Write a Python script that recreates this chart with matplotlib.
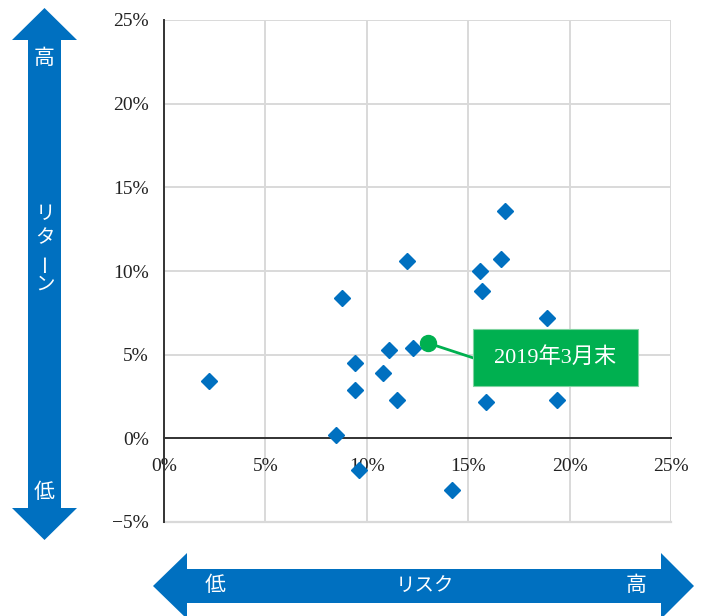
import matplotlib
matplotlib.use('Agg')
from matplotlib import pyplot as plt
from matplotlib.patches import Polygon, Rectangle

W, H = 702, 616

# risk (x, %) and return (y, %) of each asset
risk = [2.2, 8.5, 8.8, 9.4, 9.4, 9.6, 10.8, 11.1, 11.5, 12.0, 12.3,
        14.2, 15.6, 15.7, 15.9, 16.6, 16.8, 18.9, 19.4]
ret = [3.4, 0.2, 8.4, 4.5, 2.9, -1.9, 3.9, 5.3, 2.3, 10.6, 5.4,
       -3.1, 10.0, 8.8, 2.2, 10.7, 13.6, 7.2, 2.3]
latest_risk = 13.0
latest_ret = 5.7
latest_label = '2019年3月末'
x_ticks = [0, 5, 10, 15, 20, 25]
y_ticks = [-5, 0, 5, 10, 15, 20, 25]

BLUE = '#0070C0'
GREEN = '#00B050'
SERIF = ['Liberation Serif', 'Noto Sans CJK JP']
JP = ['Noto Sans CJK JP', 'DejaVu Sans']


def px(points):
    # pixel coords (top-left origin) -> figure fraction
    return [(x / W, 1 - y / H) for x, y in points]


def pct(v):
    return f'{v}%'.replace('-', '\u2212')


fig = plt.figure(figsize=(W / 100, H / 100), dpi=100)
ax = fig.add_axes([164 / W, (H - 522) / H, (671 - 164) / W, (522 - 20) / H])

# spine position first: moving it resets the tick label styling
for s in ('top', 'right'):
    ax.spines[s].set_visible(False)
ax.spines['bottom'].set_position(('data', 0))
for s in ('bottom', 'left'):
    ax.spines[s].set_color('#333333')
    ax.spines[s].set_linewidth(1.4)

ax.set_xlim(x_ticks[0], x_ticks[-1])
ax.set_ylim(y_ticks[0], y_ticks[-1])
ax.set_xticks(x_ticks)
ax.set_yticks(y_ticks)
ax.set_xticklabels([pct(v) for v in x_ticks], fontfamily=SERIF, fontsize=14)
ax.set_yticklabels([pct(v) for v in y_ticks], fontfamily=SERIF, fontsize=14)
ax.tick_params(length=0, colors='#222222')
ax.tick_params(axis='x', pad=14)
ax.tick_params(axis='y', pad=11)
ax.grid(True, color='#D9D9D9', lw=1.4, zorder=0)
ax.set_axisbelow(True)
ax.axhline(y_ticks[0], color='#D9D9D9', lw=1.6, zorder=0, clip_on=False)

ax.plot(risk, ret, 'D', color=BLUE, markersize=8, zorder=3, clip_on=False)

# callout for latest point
box_x0, box_x1, box_y0, box_y1 = 15.24, 23.37, 3.11, 6.51
ax.plot([latest_risk, box_x0], [latest_ret, (box_y0 + box_y1) / 2],
        color=GREEN, lw=2, zorder=4)
ax.plot(latest_risk, latest_ret, 'o', color=GREEN, markersize=11.5, zorder=5)
ax.add_patch(Rectangle((box_x0, box_y0), box_x1 - box_x0, box_y1 - box_y0,
                       fc=GREEN, ec='#7FD3A0', lw=0.8, zorder=5))
ax.text((box_x0 + box_x1) / 2, (box_y0 + box_y1) / 2, latest_label,
        color='white', fontsize=16, fontfamily=SERIF,
        ha='center', va='center', zorder=6)

# vertical return arrow
v_arrow = [(44.5, 8), (77, 40), (61, 40), (61, 508), (77, 508), (44.5, 540),
           (12, 508), (28, 508), (28, 40), (12, 40)]
fig.patches.append(Polygon(px(v_arrow), closed=True, fc=BLUE, ec='none',
                           transform=fig.transFigure, figure=fig))
# horizontal risk arrow
h_arrow = [(153, 586), (187, 553), (187, 569), (661, 569), (661, 553),
           (694, 586), (661, 619), (661, 603), (187, 603), (187, 619)]
fig.patches.append(Polygon(px(h_arrow), closed=True, fc=BLUE, ec='none',
                           transform=fig.transFigure, figure=fig))


def label(x, y, s, size=15, rot=0):
    (fx, fy), = px([(x, y)])
    fig.text(fx, fy, s, color='white', fontsize=size, fontfamily=JP,
             ha='center', va='center', rotation=rot)


label(44.5, 58, '高')
label(44.5, 492, '低')
for ch, y in zip('リターン', [213, 238, 262, 284]):
    label(45, y, ch, size=14, rot=90 if ch == 'ー' else 0)
label(215, 585, '低')
label(425, 585, 'リスク', size=14)
label(636, 585, '高')

fig.savefig('out.png', dpi=100)
